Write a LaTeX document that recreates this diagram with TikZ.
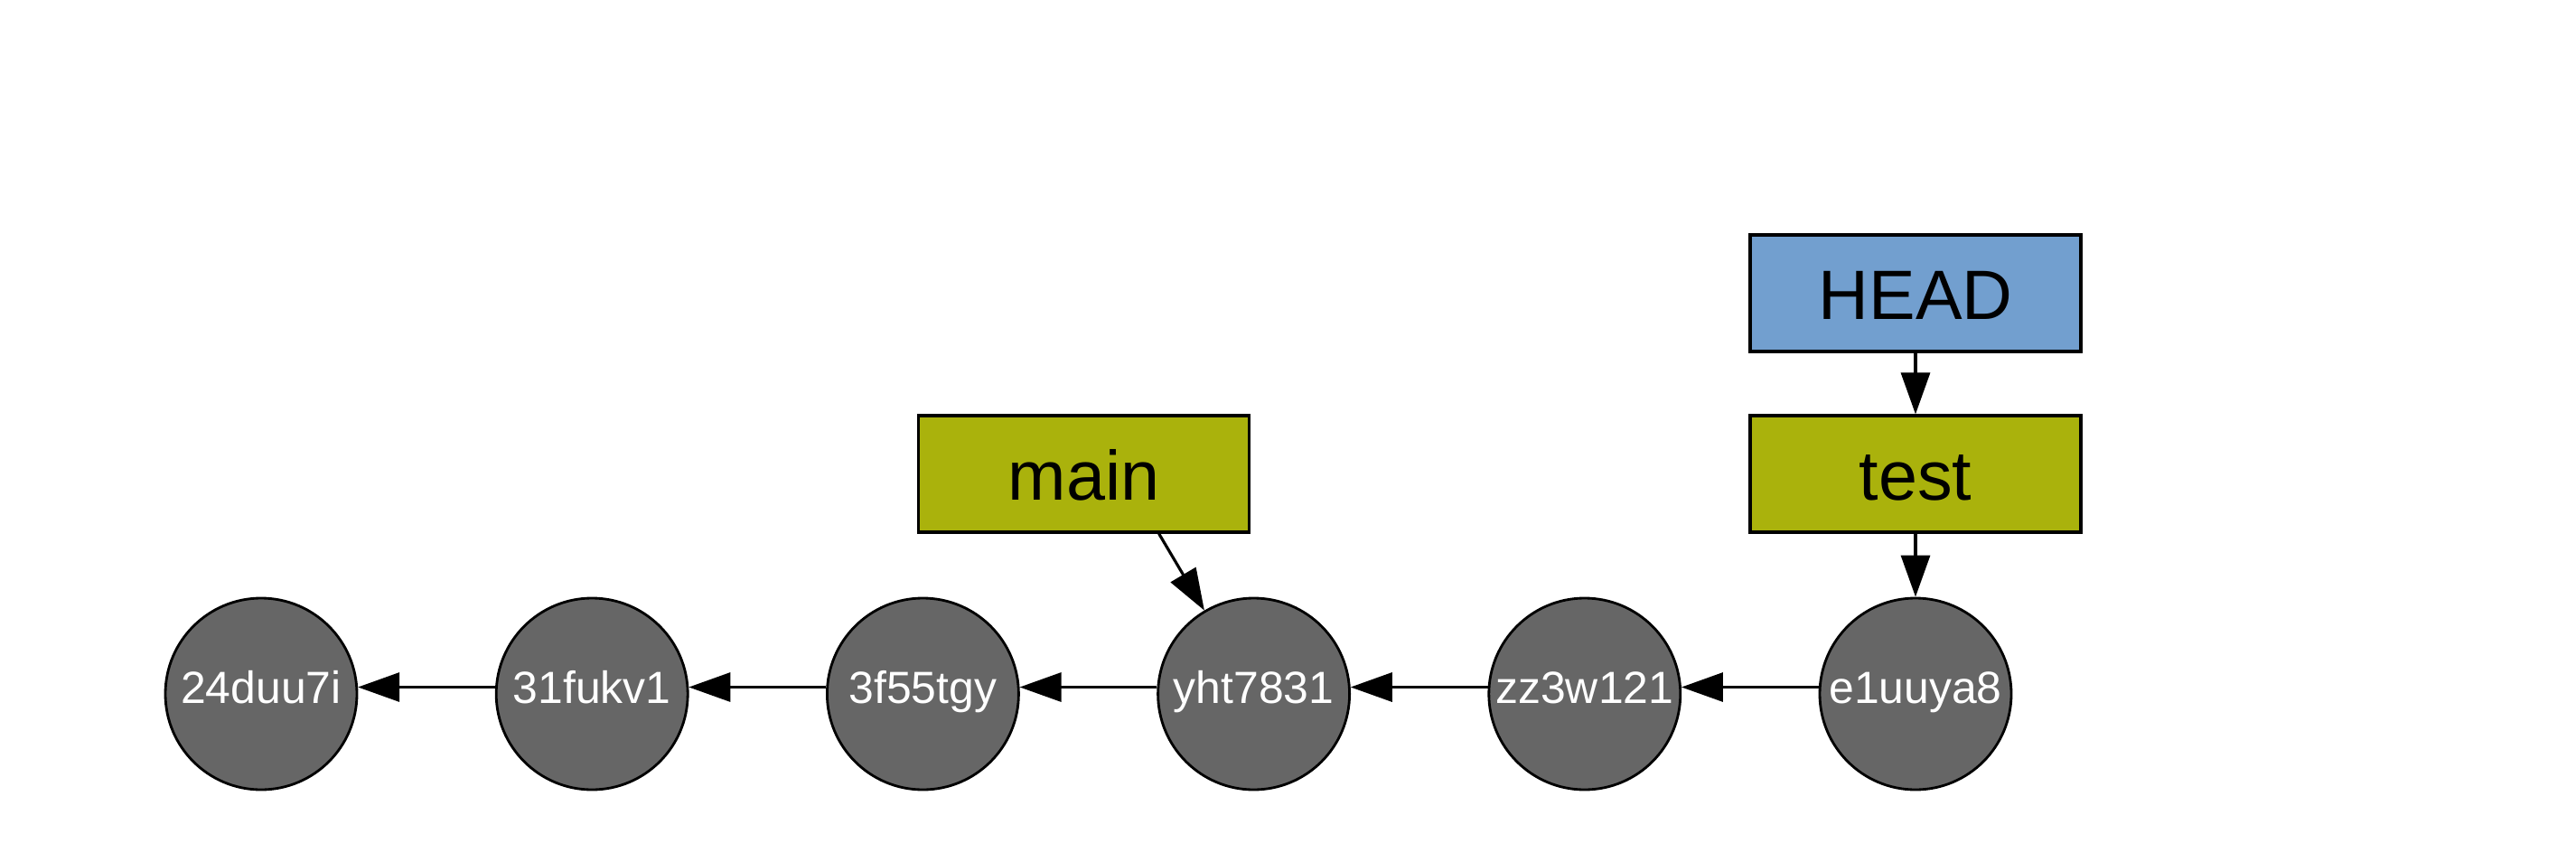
\documentclass[tikz,border=0pt]{standalone}
\usepackage{fontspec}
\setmainfont{Liberation Sans}
\usetikzlibrary{positioning,arrows.meta}
\definecolor{commitgray}{RGB}{102,102,102}
\definecolor{brancholive}{RGB}{170,178,12}
\definecolor{headblue}{RGB}{114,159,207}
\pgfmathsetmacro{\commitstep}{3.662}
\pgfmathsetmacro{\commitsize}{2.12}
\tikzset{
  commit/.style={circle, draw, line width=0.8pt, fill=commitgray, text=white,
    minimum size=\commitsize cm, inner sep=0pt, font=\fontsize{14.2}{16}\selectfont,
    text height=10.2pt, text depth=4.4pt},
  branch/.style={rectangle, draw, line width=0.9pt, fill=brancholive,
    minimum width=3.66cm, minimum height=1.29cm, inner sep=0pt,
    font=\fontsize{22}{26}\selectfont, text height=16.5pt, text depth=0pt},
  headbox/.style={branch, fill=headblue},
  parent/.style={-{Triangle[length=0.46cm, width=0.32cm]}, line width=0.9pt},
}

\begin{document}
\begin{tikzpicture}[node distance=\commitstep cm, on grid]
    \useasboundingbox (0,0) rectangle (28.51,-9.32);
    % commits
    \node[commit] (c1) at (2.89,-7.68) {24duu7i};
    \node[commit, right=of c1] (c2) {31fukv1};
    \node[commit, right=of c2] (c3) {3f55tgy};
    \node[commit, right=of c3] (c4) {yht7831};
    \node[commit, right=of c4] (c5) {zz3w121};
    \node[commit, right=of c5] (c6) {e1uuya8};
    % branches and HEAD
    \node[branch, above=2.435cm of c6] (test) {test};
    \node[headbox, above=2cm of test] (head) {HEAD};
    \node[branch, above left=2.435cm and 1.88cm of c4] (main) {main};
    % parent links
    \foreach \child/\parentnode in {c6/c5, c5/c4, c4/c3, c3/c2, c2/c1}
        \draw[parent] (\child.176) -- (\parentnode.4);
    % references
    \draw[parent] ([xshift=0.83cm]main.south) -- (c4);
    \draw[parent] (test) -- (c6);
    \draw[parent] (head) -- (test);
\end{tikzpicture}
\end{document}
